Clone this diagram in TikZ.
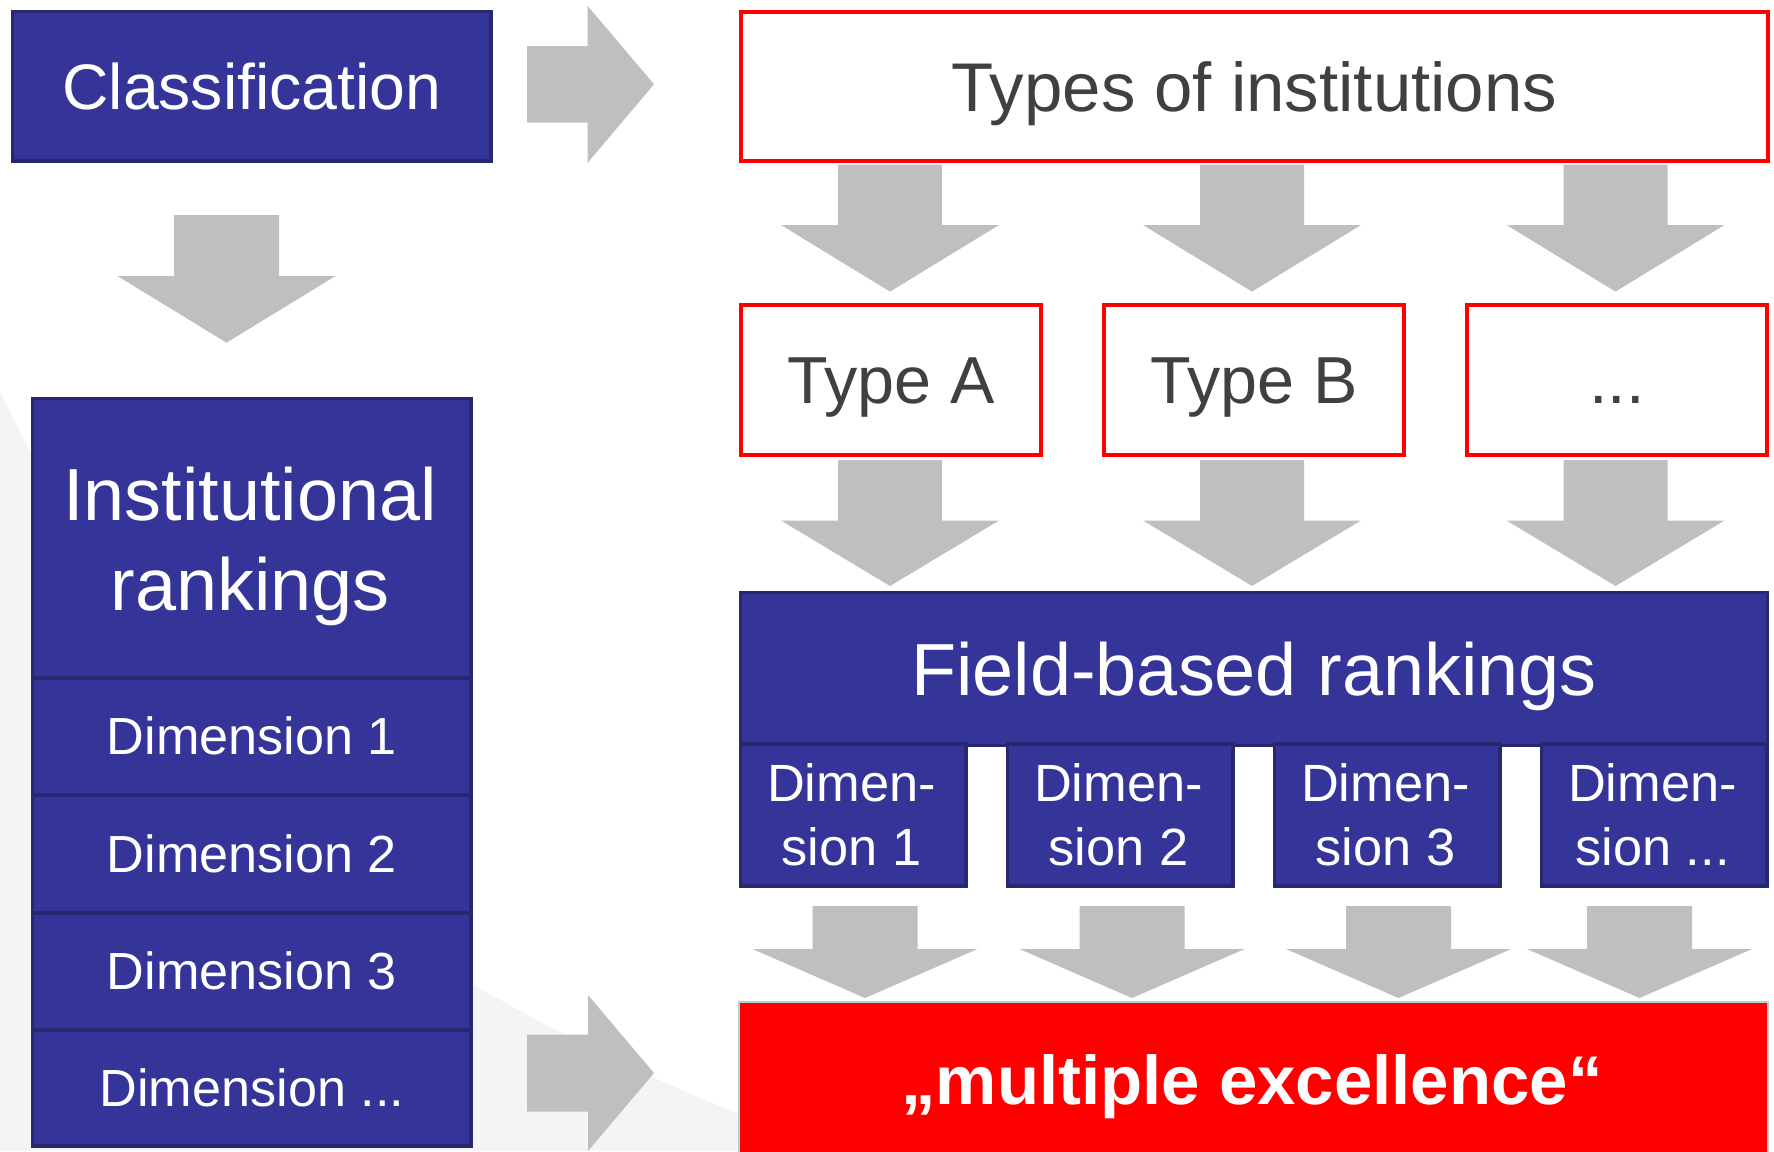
\documentclass[tikz,border=0pt]{standalone}
\usepackage{fontspec}
\setmainfont{Liberation Sans}

\definecolor{navy}{HTML}{343499}
\definecolor{navyline}{HTML}{282870}
\definecolor{arrowgrey}{HTML}{BFBFBF}
\definecolor{bggrey}{HTML}{F4F4F4}
\definecolor{textgrey}{HTML}{404040}
\definecolor{boxred}{HTML}{FF0000}
\definecolor{rededge}{HTML}{B4D2DA}

% block arrows: centre, start, neck, tip, shaft half width, head half width
\newcommand\blockdown[6]{%
  \fill[arrowgrey] (#1-#5,#2) -- (#1+#5,#2) -- (#1+#5,#3) -- (#1+#6,#3)
    -- (#1,#4) -- (#1-#6,#3) -- (#1-#5,#3) -- cycle;}
\newcommand\blockright[6]{%
  \fill[arrowgrey] (#2,#1-#5) -- (#3,#1-#5) -- (#3,#1-#6) -- (#4,#1)
    -- (#3,#1+#6) -- (#3,#1+#5) -- (#2,#1+#5) -- cycle;}

\begin{document}
\begin{tikzpicture}[x=0.01cm,y=-0.01cm,
  navybox/.style={draw=navyline, fill=navy, line width=0.035cm, inner sep=0pt,
    anchor=north west, text=white, text depth=0pt},
  redbox/.style={draw=boxred, fill=white, line width=0.04cm, inner sep=0pt,
    anchor=north west, text=textgrey, text depth=0pt},
  lineW/.style={text=white, inner sep=0pt, anchor=base},
]
\useasboundingbox (0,0) rectangle (1774,1151);
\clip (0,0) rectangle (1774,1151);

% soft background swoosh
\fill[bggrey] (0,391) .. controls (160,720) and (330,905) .. (471,983)
  .. controls (560,1035) and (650,1080) .. (780,1130) -- (780,1151) -- (0,1151) -- cycle;

% left column
\node[navybox, minimum width=4.785cm, minimum height=1.495cm, text height=13.1pt,
  font=\fontsize{18.3pt}{21pt}\selectfont] (class) at (10.7,9.7) {Classification};
\blockdown{226.5}{215}{276}{342.7}{52.5}{109}

\node[navybox, minimum width=4.385cm, minimum height=2.81cm] (insthead) at (30.7,396.7) {};
\node[lineW, font=\fontsize{21pt}{25pt}\selectfont] (instA) at (250,520) {Institutional};
\node[lineW, font=\fontsize{21pt}{25pt}\selectfont] (instB) at (250,610) {rankings};
\begin{scope}[every node/.append style={navybox, minimum width=4.385cm, text height=10.6pt,
    font=\fontsize{14.85pt}{17pt}\selectfont}]
  \node[minimum height=1.17cm] (idim1) at (30.7,676) {Dimension 1};
  \node[minimum height=1.18cm] (idim2) at (30.7,793) {Dimension 2};
  \node[minimum height=1.17cm] (idim3) at (30.7,911) {Dimension 3};
  \node[minimum height=1.16cm] (idim4) at (30.7,1028) {Dimension ...};
\end{scope}

% arrows across
\blockright{84.3}{527}{587.5}{654}{38.3}{78.6}
\blockright{1073}{527}{588}{654}{38.5}{78}

% right column
\node[redbox, minimum width=10.26cm, minimum height=1.49cm, text height=14.0pt,
  font=\fontsize{19.6pt}{23pt}\selectfont] (types) at (739,10) {Types of institutions};

\foreach \cx in {890,1252,1615.5}{
  \blockdown{\cx}{164.6}{225}{291.6}{52}{109}
  \blockdown{\cx}{460}{520.5}{586}{52}{109}
}

\begin{scope}[every node/.append style={redbox, minimum width=3.00cm, minimum height=1.50cm,
    text height=13.5pt, font=\fontsize{18.9pt}{22pt}\selectfont}]
  \node (typeA) at (739,303) {Type A};
  \node (typeB) at (1102,303) {Type B};
  \node (typeC) at (1465,303) {...};
\end{scope}

\node[navybox, minimum width=10.265cm, minimum height=1.53cm, text height=15.0pt,
  font=\fontsize{21pt}{25pt}\selectfont] (field) at (738.7,590.7) {Field-based rankings};

\begin{scope}[every node/.append style={navybox, minimum width=2.255cm, minimum height=1.42cm}]
  \node (fdim1) at (738.7,742) {};
  \node (fdim2) at (1005.7,742) {};
  \node (fdim3) at (1272.7,742) {};
  \node (fdim4) at (1539.7,742) {};
\end{scope}
\begin{scope}[every node/.append style={lineW, font=\fontsize{14.9pt}{18pt}\selectfont}]
  \node (fd1a) at (851.5,801.7) {Dimen-};  \node (fd1b) at (851.5,865.7) {sion 1};
  \node (fd2a) at (1118.5,801.7) {Dimen-}; \node (fd2b) at (1118.5,865.7) {sion 2};
  \node (fd3a) at (1385.5,801.7) {Dimen-}; \node (fd3b) at (1385.5,865.7) {sion 3};
  \node (fd4a) at (1652.5,801.7) {Dimen-}; \node (fd4b) at (1652.5,865.7) {sion ...};
\end{scope}

\foreach \cx in {865,1132,1398.5,1639.5}{
  \blockdown{\cx}{906}{949}{998}{52.5}{112.5}
}

\node[draw=rededge, line width=0.02cm, fill=boxred, inner sep=0pt, anchor=north west,
  minimum width=10.28cm, minimum height=1.60cm] (excel) at (738,1001) {};
\node[lineW, font=\fontsize{19.6pt}{23pt}\selectfont\bfseries] (excelT) at (1252,1104)
  {„multiple excellence“};
\end{tikzpicture}
\end{document}
